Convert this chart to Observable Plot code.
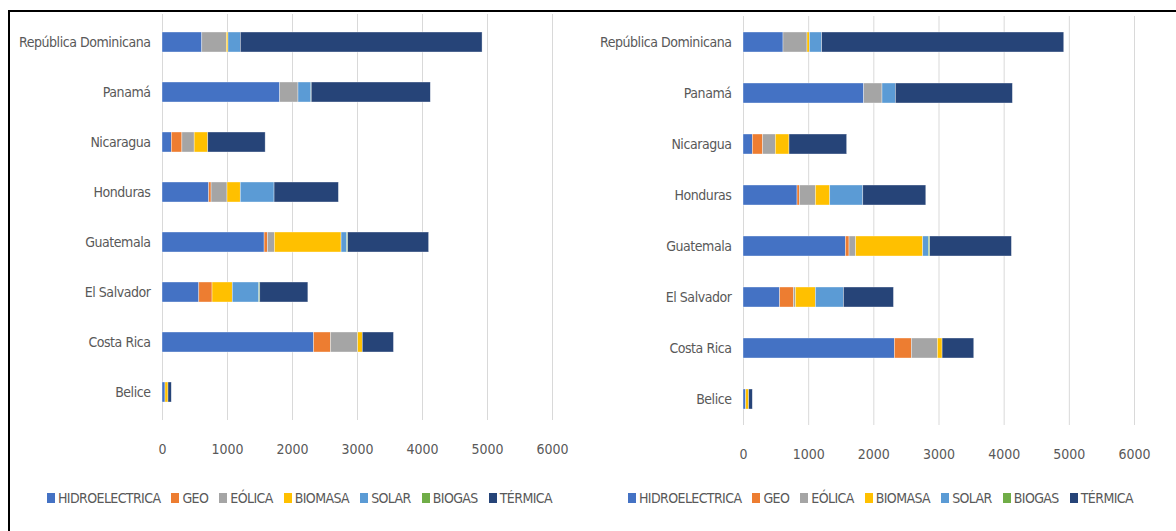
<!DOCTYPE html>
<html>
<head>
<meta charset="utf-8">
<script src="https://cdn.jsdelivr.net/npm/d3@7"></script>
<script src="https://cdn.jsdelivr.net/npm/@observablehq/plot@0.6"></script>
<style>
  html, body { margin: 0; padding: 0; background: #fff; }
  #wrap { position: relative; width: 1176px; height: 531px; overflow: hidden; background: #fff;
          font-family: "DejaVu Sans Condensed", "Liberation Sans Narrow", sans-serif; }
  #frame { position: absolute; left: 8px; top: 10px; width: 1200px; height: 600px;
           border-top: 2px solid #000; border-left: 2px solid #000; box-sizing: border-box; }
  .panel { position: absolute; top: 0; }
  .legend { position: absolute; top: 490px; display: flex; align-items: center; white-space: nowrap;
            font-size: 14px; letter-spacing: -0.6px; color: #595959; }
  .legend .item { display: flex; align-items: center; margin-right: 11px; }
  .legend .sw { width: 8px; height: 10px; margin-right: 3px; display: inline-block; }
  .ylab text { letter-spacing: -0.45px; }
</style>
</head>
<body>
<div id="wrap">
  <div id="frame"></div>
  <div id="pA" class="panel" style="left:0px"></div>
  <div id="pB" class="panel" style="left:580px"></div>
  <div id="lA" class="legend" style="left:47px"></div>
  <div id="lB" class="legend" style="left:628px"></div>
</div>
<script>
const countries = ["República Dominicana", "Panamá", "Nicaragua", "Honduras", "Guatemala", "El Salvador", "Costa Rica", "Belice"];
const types = ["HIDROELECTRICA", "GEO", "EÓLICA", "BIOMASA", "SOLAR", "BIOGAS", "TÉRMICA"];
const colors = ["#4472C4", "#ED7D31", "#A5A5A5", "#FFC000", "#5B9BD5", "#70AD47", "#264478"];
const xTicks = [0, 1000, 2000, 3000, 4000, 5000, 6000];

// Left chart
const hidroA   = [612, 1811, 143, 719, 1571, 566, 2332, 46];
const geoA     = [0, 0, 163, 36, 51, 204, 260, 0];
const eolicaA  = [378, 281, 189, 245, 107, 0, 418, 0];
const biomasaA = [25, 0, 209, 204, 1026, 311, 71, 46];
const solarA   = [190, 199, 0, 520, 87, 408, 0, 0];
const biogasA  = [0, 5, 0, 0, 15, 15, 0, 0];
const termicaA = [3719, 1832, 883, 990, 1245, 740, 480, 51];

// Right chart
const hidroB   = [614, 1852, 143, 829, 1571, 563, 2323, 41];
const geoB     = [0, 0, 159, 36, 56, 210, 261, 0];
const eolicaB  = [368, 281, 194, 246, 102, 31, 399, 0];
const biomasaB = [36, 0, 210, 220, 1029, 307, 72, 46];
const solarB   = [189, 205, 0, 507, 87, 430, 0, 0];
const biogasB  = [0, 0, 0, 0, 20, 0, 0, 0];
const termicaB = [3715, 1796, 885, 967, 1254, 768, 486, 56];

function table(series) {
  return types.flatMap((t, ti) => countries.map((c, ci) => ({country: c, type: t, value: series[ti][ci]})));
}

function chart(data, opts) {
  return Plot.plot({
    width: opts.width,
    height: opts.height,
    marginLeft: opts.marginLeft,
    marginRight: opts.marginRight,
    marginTop: opts.marginTop,
    marginBottom: opts.marginBottom,
    style: {fontFamily: '"DejaVu Sans Condensed", "Liberation Sans Narrow", sans-serif', color: "#595959", background: "transparent"},
    x: {domain: [0, 6000], ticks: xTicks, tickSize: 0, tickPadding: 24, label: null, tickFormat: d => String(d)},
    y: {domain: countries, paddingInner: 0.6, paddingOuter: 0.3, tickSize: 0, tickPadding: 12, label: null},
    color: {domain: types, range: colors},
    marks: [
      Plot.ruleX(xTicks, {stroke: "#d9d9d9", strokeWidth: 1}),
      Plot.barX(data, Plot.stackX({x: "value", y: "country", fill: "type", order: types,
        stroke: "#ffffff", strokeWidth: 0.6, strokeOpacity: 0.6})),
      Plot.axisX({ticks: xTicks, tickSize: 0, tickPadding: 24, fontSize: 14, fill: "#595959", label: null, tickFormat: d => String(d)}),
      Plot.axisY({tickSize: 0, tickPadding: 12, fontSize: 14, fill: "#595959", label: null, className: "ylab"})
    ]
  });
}

document.getElementById("pA").appendChild(chart(table([hidroA, geoA, eolicaA, biomasaA, solarA, biogasA, termicaA]),
  {width: 580, height: 470, marginLeft: 162, marginRight: 28, marginTop: 14, marginBottom: 50}));
document.getElementById("pB").appendChild(chart(table([hidroB, geoB, eolicaB, biomasaB, solarB, biogasB, termicaB]),
  {width: 596, height: 475, marginLeft: 163, marginRight: 42, marginTop: 16, marginBottom: 50}));

for (const id of ["lA", "lB"]) {
  const lg = d3.select("#" + id);
  types.forEach((t, i) => {
    const it = lg.append("span").attr("class", "item");
    it.append("span").attr("class", "sw").style("background", colors[i]);
    it.append("span").text(t);
  });
}
</script>
</body>
</html>
